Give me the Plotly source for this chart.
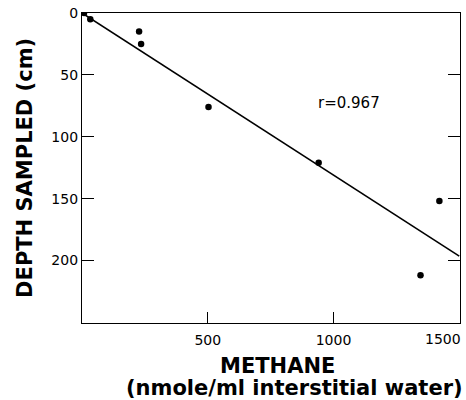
import plotly.graph_objects as go

methane = [8, 33, 227, 235, 503, 941, 1421, 1346]
depth = [0, 5, 15, 25, 76, 121, 152, 212]

fit_x = [0, 1500]
fit_y = [0, 196.5]

x_ticks = [500, 1000, 1500]
x_tick_labels = ["500", "1000", "1500"]
y_ticks = [0, 50, 100, 150, 200]

FONT = "DejaVu Sans"

fig = go.Figure()
fig.add_trace(go.Scatter(x=fit_x, y=fit_y, mode="lines",
                         line=dict(color="black", width=1.6), showlegend=False))
fig.add_trace(go.Scatter(x=methane, y=depth, mode="markers",
                         marker=dict(color="black", size=6.5), showlegend=False))

fig.add_annotation(x=1062, y=72.5, text="r=0.967", showarrow=False,
                   xanchor="center", yanchor="middle",
                   font=dict(family=FONT, size=15, color="black"))

# last tick label sits flush with the right edge, as in the reference
fig.add_annotation(x=x_ticks[-1], xref="x", yref="paper", y=-(339 - 322.7) / 309.2,
                   text=x_tick_labels[-1], showarrow=False,
                   xanchor="right", yanchor="middle", xshift=4,
                   font=dict(family=FONT, size=14, color="black"))

fig.add_annotation(xref="paper", yref="paper", x=(277 - 82) / 378, y=-(366 - 322.7) / 309.2,
                   text="<b>METHANE</b>", showarrow=False,
                   xanchor="center", yanchor="middle",
                   font=dict(family=FONT, size=21, color="black"))
fig.add_annotation(xref="paper", yref="paper", x=(294 - 82) / 378, y=-(387.5 - 322.7) / 309.2,
                   text="<b>(nmole/ml interstitial water)</b>", showarrow=False,
                   xanchor="center", yanchor="middle",
                   font=dict(family=FONT, size=21, color="black"))
fig.add_annotation(xref="paper", yref="paper", x=-(82 - 25) / 378, y=(322.7 - 168) / 309.2,
                   text="<b>DEPTH SAMPLED (cm)</b>", showarrow=False, textangle=-90,
                   xanchor="center", yanchor="middle",
                   font=dict(family=FONT, size=21, color="black"))

fig.update_xaxes(range=[0, 1503], tickvals=x_ticks, ticktext=x_tick_labels[:-1] + [""],
                 ticks="inside", ticklen=11,
                 tickcolor="black", tickwidth=1.2, showline=True, linecolor="black",
                 linewidth=1.2, mirror=True, showgrid=False, zeroline=False,
                 ticklabelstandoff=4,
                 tickfont=dict(family=FONT, size=14, color="black"))
fig.update_yaxes(range=[250.5, 0], tickvals=y_ticks, ticks="inside", ticklen=12,
                 tickcolor="black", tickwidth=1.2, showline=True, linecolor="black",
                 linewidth=1.2, mirror="ticks", showgrid=False, zeroline=False,
                 tickfont=dict(family=FONT, size=14, color="black"))

fig.update_layout(width=466, height=400, margin=dict(l=82, r=6, t=13, b=77),
                  plot_bgcolor="white", paper_bgcolor="white")

fig.write_html("out.html", config={"displayModeBar": False},
               post_script="document.body.style.margin='0';")
